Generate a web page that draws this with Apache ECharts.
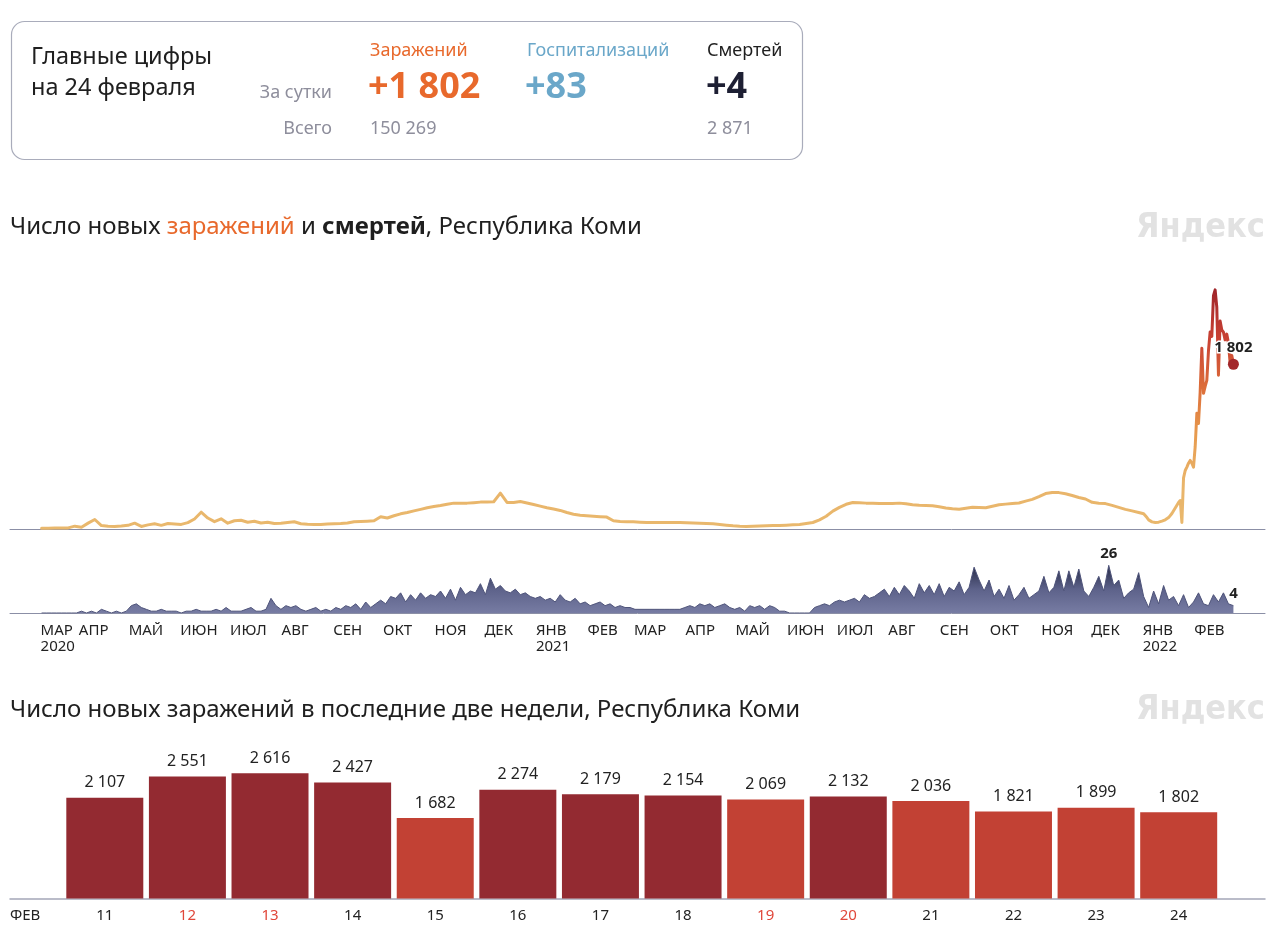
<!DOCTYPE html>
<html><head><meta charset="utf-8">
<script src="https://cdn.jsdelivr.net/npm/echarts@6/dist/echarts.min.js"></script>
<style>html,body{margin:0;padding:0;background:#fff}#c{width:1280px;height:949px}</style>
</head><body><div id="c"></div>
<script>
// ---------- DATA ----------
const monthNames = ['ЯНВ','ФЕВ','МАР','АПР','МАЙ','ИЮН','ИЮЛ','АВГ','СЕН','ОКТ','НОЯ','ДЕК'];
const axisStart = [2020, 1, 19];      // first day on the axis (2020-02-19)
const axisDays = 756;                 // days on the axis (to 2022-03-15)
const dataStartDay = 19;              // 2020-03-09: first day with data

// new infections, one reading every 4 days from 2020-03-09 to 2021-12-29
const infEvery4Days = [
  9,9,10,10,12,31,20,64,104,38,
  30,27,32,40,64,28,45,57,40,60,
  55,50,70,110,184,120,80,111,64,90,
  95,74,85,65,74,60,62,70,79,57,
  52,49,50,55,57,60,66,79,82,86,
  90,135,120,145,166,180,198,215,232,245,
  256,270,283,283,283,288,294,296,298,392,
  290,290,300,285,268,250,232,218,203,180,
  162,151,146,140,135,130,90,82,80,78,
  74,71,71,72,70,71,70,68,66,64,
  60,57,50,42,35,30,27,30,34,36,
  37,38,42,46,49,60,71,100,140,195,
  237,270,290,287,283,282,278,278,280,283,
  276,266,261,258,254,243,230,222,217,228,
  238,235,232,248,265,272,280,285,305,324,
  355,388,400,398,385,366,345,328,292,282,
  278,258,236,215,198,180
];
const infEvery4Step = 4;
// daily new infections 2022-01-01 .. 2022-02-10
const infDailyStartDay = 682;
const infDaily2022 = [
  166,150,125,100,85,78,73,71,72,75,
  80,86,92,100,111,125,145,170,200,230,
  260,290,312,71,560,640,677,720,750,720,
  677,
  900,1265,1155,1500,1977,1484,1560,1626,1950,2155
];
// last two weeks (2022-02-11 .. 2022-02-24)
const barDays = [11,12,13,14,15,16,17,18,19,20,21,22,23,24];
const barValues = [2107,2551,2616,2427,1682,2274,2179,2154,2069,2132,2036,1821,1899,1802];
const barMonthLabel = 'ФЕВ';
const barYear = 2022, barMonth = 1;
const barStartDay = 723;

// deaths, one reading every 3 days from 2020-03-09 to 2022-02-24
const deathsEvery3Days = [
  0,0,0,0,0,0,0,0,1,
  0,1,0,2,1,0,1,0,1,4,
  5,3,2,1,1,2,1,1,1,0,
  1,1,2,1,1,1,2,1,3,1,
  1,1,2,3,1,1,2,8,4,2,
  4,3,4,2,1,2,3,1,2,1,
  3,2,4,3,5,2,6,3,5,7,
  5,9,8,11,6,10,7,11,8,10,
  9,12,8,13,7,14,10,12,11,16,
  10,19,13,15,12,11,13,10,11,9,
  8,9,7,8,6,10,7,6,8,5,
  6,4,5,6,4,5,3,4,3,3,
  2,2,2,2,2,2,2,2,2,2,
  3,4,3,5,4,5,3,4,5,3,
  2,3,1,4,3,4,2,4,3,1,
  1,0,0,0,0,0,3,4,5,4,
  6,7,6,7,8,6,10,8,9,11,
  13,9,14,10,15,12,8,16,11,15,
  10,16,9,14,12,17,10,14,25,18,
  12,18,9,13,8,15,7,10,14,8,
  10,12,20,11,14,23,12,23,14,24,
  12,9,14,20,12,26,15,18,8,11,
  13,22,9,3,12,5,15,7,9,4,
  10,3,6,11,5,4,10,6,11,5,4
];
const deathsStep = 3;

// headline figures
const kpiDate = 'на 24 февраля';
const kpiLabels = ['Заражений','Госпитализаций','Смертей'];
const kpiDaily = [1802, 83, 4];
const kpiTotal = [150269, null, 2871];

// ---------- BUILD ----------
const fmt = n => String(n).replace(/\B(?=(\d{3})+(?!\d))/g, ' ');
const DAY = 86400000;
const t0 = Date.UTC(axisStart[0], axisStart[1], axisStart[2]);
const dates = [];
for (let i = 0; i < axisDays; i++) dates.push(new Date(t0 + i * DAY));
const cats = dates.map(d => d.toISOString().slice(0,10));

const infData = new Array(axisDays).fill(null);
infEvery4Days.forEach((v,k) => { infData[dataStartDay + k*infEvery4Step] = v; });
infDaily2022.forEach((v,j) => { infData[infDailyStartDay + j] = v; });
barValues.forEach((v,j) => { infData[barStartDay + j] = v; });

const deathData = new Array(axisDays).fill(null);
deathsEvery3Days.forEach((v,k) => { deathData[dataStartDay + k*deathsStep] = v; });

let lastInf = 0; infData.forEach((v,i)=>{ if (v!==null) lastInf = i; });
let lastDeath = 0; deathData.forEach((v,i)=>{ if (v!==null) lastDeath = i; });

const FONT = '"Noto Sans", "Open Sans", sans-serif';
const GREY = '#8e8e9c';
const AXIS = '#8b8fa6';
const WM_FONT = 'bold 34px "Liberation Sans Narrow", "DejaVu Sans Condensed", sans-serif';

const chart = echarts.init(document.getElementById('c'), null, {renderer:'canvas'});

const monthLabelShown = (i) => {
  if (i === dataStartDay) return true;
  if (i <= dataStartDay || i > lastDeath) return false;
  return dates[i].getUTCDate() === 1;
};

const option = {
  animation: false,
  backgroundColor: '#fff',
  textStyle: { fontFamily: FONT },
  title: [
    { left: 10, top: 215, padding: 0, text: '{a|Число новых }{o|заражений}{a| и }{b|смертей}{a|, Республика Коми}',
      textStyle: { fontWeight: 'normal', fontSize: 24, rich: {
        a: { fontSize: 24, color: '#1f1f1f', fontWeight: 'normal', fontFamily: FONT },
        o: { fontSize: 24, color: '#e8692c', fontWeight: 'normal', fontFamily: FONT },
        b: { fontSize: 24, color: '#1f1f1f', fontWeight: 'bold', fontFamily: FONT }
      } } },
    { left: 10, top: 698, padding: 0, text: 'Число новых заражений в последние две недели, Республика Коми',
      textStyle: { fontSize: 24, color: '#1f1f1f', fontWeight: 'normal', fontFamily: FONT } }
  ],
  graphic: [
    { type: 'rect', shape: { x: 11.5, y: 21.5, width: 791, height: 138, r: 13 },
      style: { fill: '#fff', stroke: '#a9acbb', lineWidth: 1.2 }, z: 0 },
    { type: 'text', style: { text: 'Главные цифры', x: 31, y: 57, fill: '#1f1f1f', font: '23.5px ' + FONT, textVerticalAlign: 'middle' } },
    { type: 'text', style: { text: kpiDate, x: 31, y: 88, fill: '#1f1f1f', font: '23.5px ' + FONT, textVerticalAlign: 'middle' } },
    { type: 'text', style: { text: 'За сутки', x: 332, y: 93, fill: GREY, font: '18px ' + FONT, textAlign: 'right', textVerticalAlign: 'middle' } },
    { type: 'text', style: { text: 'Всего', x: 332, y: 129, fill: GREY, font: '18px ' + FONT, textAlign: 'right', textVerticalAlign: 'middle' } },
    { type: 'text', style: { text: kpiLabels[0], x: 370, y: 51, fill: '#e8692c', font: '18px ' + FONT, textVerticalAlign: 'middle' } },
    { type: 'text', style: { text: '+' + fmt(kpiDaily[0]), x: 368, y: 88, fill: '#e8692c', font: 'bold 36px ' + FONT, textVerticalAlign: 'middle' } },
    { type: 'text', style: { text: fmt(kpiTotal[0]), x: 370, y: 129, fill: GREY, font: '18px ' + FONT, textVerticalAlign: 'middle' } },
    { type: 'text', style: { text: kpiLabels[1], x: 527, y: 51, fill: '#6aa7c9', font: '18px ' + FONT, textVerticalAlign: 'middle' } },
    { type: 'text', style: { text: '+' + fmt(kpiDaily[1]), x: 525, y: 88, fill: '#6aa7c9', font: 'bold 36px ' + FONT, textVerticalAlign: 'middle' } },
    { type: 'text', style: { text: kpiLabels[2], x: 707, y: 51, fill: '#1f1f1f', font: '18px ' + FONT, textVerticalAlign: 'middle' } },
    { type: 'text', style: { text: '+' + fmt(kpiDaily[2]), x: 706, y: 88, fill: '#1d1f33', font: 'bold 36px ' + FONT, textVerticalAlign: 'middle' } },
    { type: 'text', style: { text: fmt(kpiTotal[2]), x: 707, y: 129, fill: GREY, font: '18px ' + FONT, textVerticalAlign: 'middle' } },
    { type: 'text', style: { text: 'Яндекс', x: 1265, y: 228, fill: '#e2e2e2', font: WM_FONT, textAlign: 'right', textVerticalAlign: 'middle' } },
    { type: 'text', style: { text: 'Яндекс', x: 1265, y: 710, fill: '#e2e2e2', font: WM_FONT, textAlign: 'right', textVerticalAlign: 'middle' } },
    { type: 'text', style: { text: barMonthLabel, x: 10, y: 916, fill: '#222', font: '15px ' + FONT, textVerticalAlign: 'middle' } }
  ],
  grid: [
    { left: 10, right: 15, top: 273, height: 256 },
    { left: 10, right: 15, top: 558, height: 55 },
    { left: 63.5, right: 60, top: 755, height: 143.5 },
    { left: 10, right: 15, top: 755, height: 143.5 }
  ],
  xAxis: [
    { gridIndex: 0, type: 'category', data: cats, boundaryGap: false,
      axisLine: { lineStyle: { color: AXIS, width: 1 } }, axisTick: { show: false }, axisLabel: { show: false } },
    { gridIndex: 1, type: 'category', data: cats, boundaryGap: false,
      axisLine: { lineStyle: { color: AXIS, width: 1 } }, axisTick: { show: false },
      axisLabel: { show: true, interval: (i) => monthLabelShown(i), align: 'left', margin: 10,
        fontSize: 15, lineHeight: 16, color: '#222', fontFamily: FONT, padding: [0, 0, 0, -1],
        formatter: (v, i) => {
          const d = dates[i]; const m = d.getUTCMonth();
          let s = monthNames[m];
          if (m === 0 || i === dataStartDay) s += '\n' + d.getUTCFullYear();
          return s;
        } } },
    { gridIndex: 2, type: 'category', data: barDays, axisLine: { show: false }, axisTick: { show: false },
      axisLabel: { margin: 10, formatter: (v) => {
          const wd = new Date(Date.UTC(barYear, barMonth, +v)).getUTCDay();
          return (wd === 0 || wd === 6) ? '{w|' + v + '}' : '{n|' + v + '}';
        },
        rich: { w: { color: '#e0473a', fontSize: 15, fontFamily: FONT }, n: { color: '#222', fontSize: 15, fontFamily: FONT } } } },
    { gridIndex: 3, type: 'value', min: 0, max: 1, axisLine: { show: true, lineStyle: { color: '#a4a7b8', width: 1.5 } },
      axisTick: { show: false }, axisLabel: { show: false }, splitLine: { show: false } }
  ],
  yAxis: [
    { gridIndex: 0, type: 'value', min: 0, max: 2800, show: false },
    { gridIndex: 1, type: 'value', min: 0, max: 30, show: false },
    { gridIndex: 2, type: 'value', min: 0, max: 3000, show: false },
    { gridIndex: 3, type: 'value', min: 0, max: 1, show: false }
  ],
  visualMap: [
    { type: 'continuous', show: false, seriesIndex: 0, dimension: 1, min: 0, max: 2600,
      inRange: { color: ['#e9b86d','#e9b46a','#e79a4e','#dc6c39','#c94234','#a1262a'] } },
    { type: 'piecewise', show: false, seriesIndex: 2, dimension: 1,
      pieces: [ { gte: 2100, color: '#932a31' }, { lt: 2100, color: '#c24134' } ] }
  ],
  series: [
    { type: 'line', xAxisIndex: 0, yAxisIndex: 0, data: infData, connectNulls: true, showSymbol: false,
      lineStyle: { width: 3, cap: 'round', join: 'round' }, z: 3,
      markPoint: { symbol: 'circle', symbolSize: 11, itemStyle: { color: '#a3272b' },
        data: [ { coord: [cats[lastInf], infData[lastInf]], value: infData[lastInf] } ],
        label: { show: true, position: 'top', distance: 4, formatter: p => fmt(p.value), fontSize: 15, fontWeight: 'bold',
          color: '#222', textBorderColor: '#fff', textBorderWidth: 3, fontFamily: FONT } } },
    { type: 'line', xAxisIndex: 1, yAxisIndex: 1, data: deathData, connectNulls: true, showSymbol: false,
      lineStyle: { width: 1, color: '#4f547a' },
      areaStyle: { opacity: 1, color: new echarts.graphic.LinearGradient(0,0,0,1,[
        { offset: 0, color: '#272b47' }, { offset: 0.5, color: '#5d628a' }, { offset: 1, color: '#777ca3' } ]) },
      markPoint: { symbol: 'circle', symbolSize: 1, itemStyle: { color: 'rgba(0,0,0,0)' },
        data: [ { type: 'max' }, { coord: [cats[lastDeath], deathData[lastDeath]], value: deathData[lastDeath] } ],
        label: { show: true, position: 'top', distance: 4, formatter: p => fmt(p.value), fontSize: 15, fontWeight: 'bold', color: '#222', fontFamily: FONT } } },
    { type: 'bar', xAxisIndex: 2, yAxisIndex: 2, data: barValues, barCategoryGap: '6.8%',
      label: { show: true, position: 'top', distance: 7, formatter: p => fmt(p.value), fontSize: 16, color: '#222', fontFamily: FONT } }
  ]
};
chart.setOption(option);
</script></body></html>
